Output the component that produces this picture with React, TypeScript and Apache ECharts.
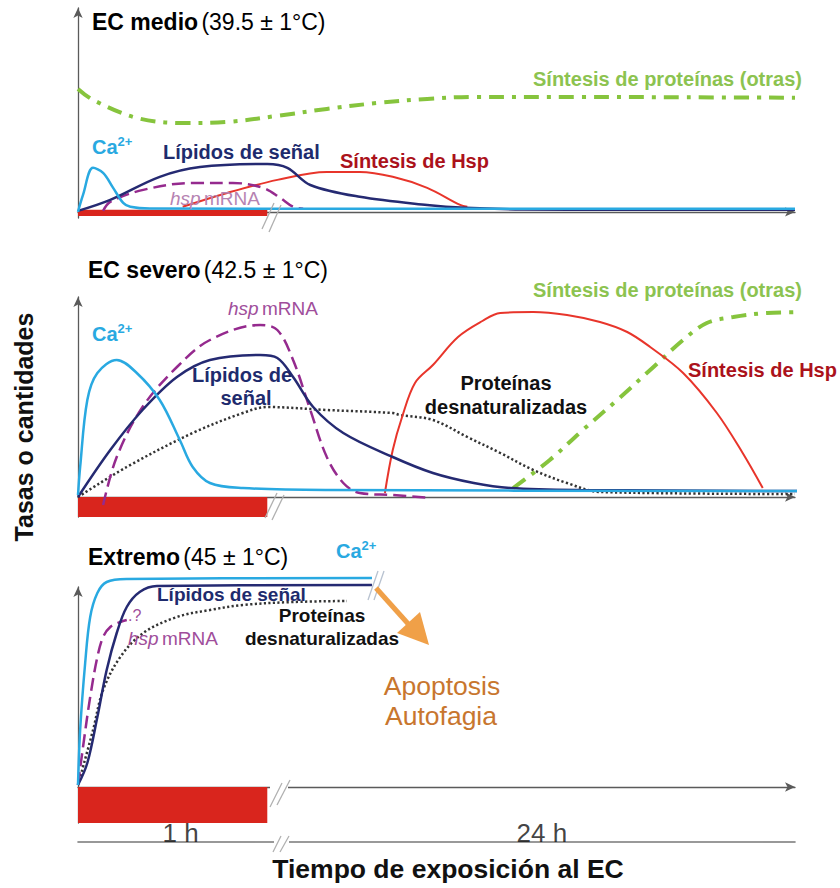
import React, { useEffect, useRef } from "react";
import * as echarts from "echarts";

// ---------- data (x: relative exposure time 0..100, y: relative rate/amount) ----------
// Panel 1: EC medio
const p1Green: number[][] = [[0, 60.3], [2.1, 54.9], [8.2, 46.1], [14.6, 43.6], [20.8, 44.1], [27.8, 47.1], [34.7, 50.5], [41.7, 53.4], [48.7, 55.4], [55.1, 56.4], [70, 56.4], [85, 56.2], [100, 56]];
const p1Ca: number[][] = [[0, 0], [0.7, 8.3], [2.1, 21.6], [3.5, 19.1], [4.9, 11.8], [6.3, 4.4], [7.3, 2.5], [10, 1.6], [100, 1.5]];
const p1Lipid: number[][] = [[0, 0.5], [4.5, 5.9], [11.4, 17.2], [17, 22], [26.4, 23.5], [29.2, 21.6], [32.4, 13.2], [39.3, 7.4], [48.7, 3.4], [54, 2], [62, 1.2], [75, 1], [100, 1]];
const p1Mrna: number[][] = [[3.5, 0.5], [4.5, 4.9], [9.1, 10.8], [16, 14.2], [21.6, 14.2], [25.8, 11.8], [28.2, 6.9], [30, 2.5], [31.4, 1.5]];
const p1Hsp: number[][] = [[14.6, 2.5], [20.8, 9.3], [27.8, 15.7], [34.7, 19.6], [39.3, 19.6], [43.9, 17.2], [48.7, 11.8], [53.3, 3.4], [54.3, 2.5]];

// Panel 2: EC severo
const p2Ca: number[][] = [[0, 1], [0.3, 15], [1.3, 48.5], [2.7, 62], [5.4, 68.5], [8.2, 62], [11.4, 48.5], [14.2, 28.5], [16, 15], [18.4, 7], [23, 4.5], [35, 3.5], [101, 3]];
const p2Lipid: number[][] = [[0, 0], [4.5, 23.5], [9, 43.5], [13.8, 60], [18.4, 68.5], [25.4, 71], [27.8, 69.5], [30, 60], [32.8, 45], [37, 32], [43.9, 20], [49.5, 12], [55.2, 7], [60.3, 4.5], [70, 3.5], [101, 3]];
const p2Mrna: number[][] = [[3.5, -4], [5.4, 20], [9, 45], [13.8, 65], [18.4, 78.5], [25.4, 86], [27.8, 83.5], [30, 68.5], [32.4, 43.5], [34.7, 20], [37, 7], [39.3, 2], [43.9, 1], [49.1, -0.5]];
const p2Denat: number[][] = [[0, 0], [6.8, 15], [16, 32], [23, 42], [26.4, 45], [34.7, 43.5], [43.9, 42], [44.9, 41], [49.5, 38.5], [54.3, 30], [58.9, 22], [63.5, 13.5], [68.2, 7], [72.8, 2.5], [100, 1.5]];
const p2Hsp: number[][] = [[42.8, 2], [43.9, 23.5], [45.2, 40], [47, 57], [49.5, 66], [53, 80], [56.4, 88], [58.9, 92], [63.5, 92.5], [68.2, 91], [72.8, 87.5], [76.6, 82.5], [79.8, 75], [84.4, 62], [89.1, 42], [92.7, 22], [95.5, 4.5]];
const p2Green: number[][] = [[60.7, 4.5], [65.8, 18.5], [70.4, 33.5], [75.2, 48.5], [79.8, 63.5], [84.4, 78.5], [87.7, 87], [91.4, 90], [96.1, 92], [103.9, 92.5]];

// Panel 3: Extremo
const p3Ca: number[][] = [[0, 1], [0.3, 28.5], [1, 62], [1.7, 85], [2.7, 97], [4, 102.5], [6.8, 104], [41, 104.5]];
const p3Lipid: number[][] = [[0, 1], [1.3, 12], [2.7, 35], [4, 58.5], [5.4, 77], [6.8, 90], [8.6, 97.5], [11, 100.5], [41, 101]];
const p3Mrna: number[][] = [[0, 1], [0.7, 20], [1.7, 45], [2.7, 65], [3.5, 75], [4.5, 80], [5.9, 82.5], [6.8, 83.5]];
const p3Denat: number[][] = [[0, 1], [2.1, 28.5], [3.5, 48.5], [5.9, 65], [9.1, 77], [13.8, 85], [18.4, 88.5], [23, 91], [30, 92.5], [37.5, 93]];

// heat exposure bar (1 h) and its depth below each axis
const exposureEnd = 26.4;
const barRanges: number[][] = [[-2, 1], [-10, 0], [-18, 0]];

// time axis tick labels
const timeTickLabels = ["1 h", "24 h"];
const timeTickPos = [14.3, 64.7];

// ---------- styles ----------
const C_BLUE = "#29a9e1";
const C_NAVY = "#252a72";
const C_PURPLE = "#952a8e";
const C_RED = "#e8352b";
const C_GREEN = "#86c43d";
const C_DOT = "#333333";
const C_BAR = "#d9251d";
const C_AXIS = "#5a5a5a";
const FONT = "'Liberation Sans', Arial, sans-serif";

const LABEL = 20;

const GRIDS = [
  { left: 78, right: 45, top: 8, height: 210 },
  { left: 78, right: 45, top: 297, height: 220 },
  { left: 78, right: 45, top: 587, height: 236 },
  { left: 78, right: 45, top: 800, height: 42 },
];
const Y_RANGES = [[-3, 100], [-10, 100], [-18, 100], [0, 1]];

function line(panel: number, data: number[][], color: string, width: number, type: any, z = 3) {
  return {
    type: "line",
    xAxisIndex: panel,
    yAxisIndex: panel,
    data,
    smooth: 0.35,
    symbol: "none",
    showSymbol: false,
    clip: false,
    silent: true,
    z,
    lineStyle: { color, width, type, cap: "butt" },
  };
}

function barSeries(panel: number) {
  const r = barRanges[panel];
  return {
    type: "line",
    xAxisIndex: panel,
    yAxisIndex: panel,
    data: [[0, 0]],
    symbol: "none",
    lineStyle: { width: 0 },
    z: 1,
    silent: true,
    markArea: {
      silent: true,
      itemStyle: { color: C_BAR, opacity: 1 },
      data: [[{ xAxis: 0, yAxis: r[0] }, { xAxis: exposureEnd, yAxis: r[1] }]],
    },
  };
}

const DASHDOT = [15, 8, 4, 8];
const DASH = [13, 6];
const DOTS = [2.2, 2.4];

function txt(x: number, y: number, text: string, style: any, extra: any = {}) {
  return {
    type: "text",
    x,
    y,
    z: 100,
    ...extra,
    style: { text, fontFamily: FONT, textVerticalAlign: "middle", ...style },
  };
}

function richTitle(x: number, y: number, bold: string, normal: string) {
  return txt(x, y, `{b|${bold}} {n|${normal}}`, {
    rich: {
      b: { fontSize: 23, fontWeight: "bold", fill: "#000", fontFamily: FONT },
      n: { fontSize: 23, fontWeight: "normal", fill: "#000", fontFamily: FONT },
    },
  });
}

function caLabel(x: number, y: number) {
  return txt(x, y, "{a|Ca}{s|2+}", {
    rich: {
      a: { fontSize: 20, fontWeight: "bold", fill: C_BLUE, fontFamily: FONT, lineHeight: 22, verticalAlign: "bottom" },
      s: { fontSize: 13, fontWeight: "bold", fill: C_BLUE, fontFamily: FONT, lineHeight: 22, verticalAlign: "top" },
    },
  });
}

function mrnaLabel(x: number, y: number, color: string) {
  return txt(x, y, "{i|hsp} {n|mRNA}", {
    rich: {
      i: { fontSize: 19, fontStyle: "italic", fill: color, fontFamily: FONT },
      n: { fontSize: 19, fill: color, fontFamily: FONT },
    },
  });
}

const boldLabel = (x: number, y: number, text: string, fill: string, size = LABEL, align = "left") =>
  txt(x, y, text, { fill, fontSize: size, fontWeight: "bold", textAlign: align });

const brk = (x1: number, y1: number, x2: number, y2: number, color = "#b0b0b0") => ({
  type: "line",
  z: 90,
  shape: { x1, y1, x2, y2 },
  style: { stroke: color, lineWidth: 1.3 },
});

export default function App() {
  const ref = useRef<HTMLDivElement>(null);
  useEffect(() => {
    if (!ref.current) return;
    const chart = echarts.init(ref.current, null, { renderer: "svg" });

    const axisArrow = () => ({
      show: true,
      onZero: true,
      symbol: ["none", "arrow"],
      symbolSize: [7, 10],
      lineStyle: { color: C_AXIS, width: 1.3 },
    });

    const xAxis = GRIDS.map((_, i) => ({
      type: "value",
      gridIndex: i,
      min: 0,
      max: 100,
      axisLine: i < 3 ? axisArrow() : { show: true, onZero: false, lineStyle: { color: "#777", width: 1.6 } },
      axisTick: { show: false },
      axisLabel: { show: false },
      splitLine: { show: false },
    }));
    const yAxis = GRIDS.map((_, i) => ({
      type: "value",
      gridIndex: i,
      min: Y_RANGES[i][0],
      max: Y_RANGES[i][1],
      axisLine: i < 3 ? axisArrow() : { show: false },
      axisTick: { show: false },
      axisLabel: { show: false },
      splitLine: { show: false },
    }));

    const series: any[] = [
      barSeries(0),
      barSeries(1),
      barSeries(2),
      // panel 1
      line(0, p1Green, C_GREEN, 4, DASHDOT),
      line(0, p1Hsp, C_RED, 2, "solid"),
      line(0, p1Mrna, C_PURPLE, 2.5, DASH),
      line(0, p1Lipid, C_NAVY, 2.5, "solid"),
      line(0, p1Ca, C_BLUE, 2.5, "solid", 4),
      // panel 2
      line(1, p2Denat, C_DOT, 2.5, DOTS),
      line(1, p2Green, C_GREEN, 4, DASHDOT),
      line(1, p2Hsp, C_RED, 2, "solid"),
      line(1, p2Mrna, C_PURPLE, 2.5, DASH),
      line(1, p2Lipid, C_NAVY, 2.5, "solid"),
      line(1, p2Ca, C_BLUE, 2.5, "solid", 4),
      // panel 3
      line(2, p3Denat, C_DOT, 2.5, DOTS),
      line(2, p3Mrna, C_PURPLE, 2.5, DASH),
      line(2, p3Lipid, C_NAVY, 2.5, "solid"),
      line(2, p3Ca, C_BLUE, 2.5, "solid", 4),
      // time axis labels
      {
        type: "scatter",
        xAxisIndex: 3,
        yAxisIndex: 3,
        symbolSize: 0,
        silent: true,
        data: timeTickLabels.map((name, i) => ({ name, value: [timeTickPos[i], 0] })),
        label: {
          show: true,
          position: "top",
          distance: -4,
          formatter: (p: any) => p.name,
          fontFamily: FONT,
          fontSize: 26,
          color: "#111",
        },
      },
    ];

    const graphic: any[] = [
      // panel 1 texts
      richTitle(92, 22, "EC medio", "(39.5 ± 1°C)"),
      boldLabel(533, 79, "Síntesis de proteínas (otras)", "#8cc350"),
      caLabel(92, 146),
      boldLabel(163, 152, "Lípidos de señal", "#1e2b6d"),
      boldLabel(340, 161, "Síntesis de Hsp", "#ab121b"),
      mrnaLabel(170, 198, "#b683b2"),
      // panel 2 texts
      richTitle(88, 270, "EC severo", "(42.5 ± 1°C)"),
      boldLabel(533, 290, "Síntesis de proteínas (otras)", "#8cc350"),
      mrnaLabel(228, 308, "#a04e9b"),
      caLabel(92, 333),
      boldLabel(242, 375, "Lípidos de", "#1e2b6d", LABEL, "center"),
      boldLabel(246, 398, "señal", "#1e2b6d", LABEL, "center"),
      boldLabel(506, 383, "Proteínas", "#111", LABEL, "center"),
      boldLabel(506, 407, "desnaturalizadas", "#111", LABEL, "center"),
      boldLabel(688, 370, "Síntesis de Hsp", "#ab121b"),
      // panel 3 texts
      richTitle(88, 557, "Extremo", "(45 ± 1°C)"),
      caLabel(336, 550),
      boldLabel(157, 594, "Lípidos de señal", "#1e2b6d", 19),
      boldLabel(322, 615, "Proteínas", "#111", 19, "center"),
      boldLabel(322, 638, "desnaturalizadas", "#111", 19, "center"),
      mrnaLabel(128, 638, "#a04e9b"),
      txt(128, 615, ".?", { fill: "#a04e9b", fontSize: 16 }),
      txt(442, 686, "Apoptosis", { fill: "#c8762e", fontSize: 26.5, textAlign: "center" }),
      txt(441, 716, "Autofagia", { fill: "#c8762e", fontSize: 26.5, textAlign: "center" }),
      // axis titles
      txt(448, 869, "Tiempo de exposición al EC", { fill: "#111", fontSize: 26.5, fontWeight: "bold", textAlign: "center" }),
      txt(24, 427, "Tasas o cantidades", { fill: "#111", fontSize: 25, fontWeight: "bold", textAlign: "center" }, { rotation: Math.PI / 2 }),
      // orange arrow
      { type: "line", z: 95, shape: { x1: 376, y1: 588, x2: 411, y2: 627 }, style: { stroke: "#f0a048", lineWidth: 5 } },
      { type: "polygon", z: 95, shape: { points: [[397, 633], [420, 612], [429, 645]] }, style: { fill: "#f0a048" } },
      // axis breaks
      brk(262, 229, 274, 203),
      brk(269, 232, 281, 205),
      brk(265, 518, 277, 493),
      brk(272, 520, 284, 495),
      { type: "rect", z: 89, shape: { x: 270, y: 783, width: 18, height: 8 }, style: { fill: "#fff" } },
      brk(270, 807, 282, 783),
      brk(277, 805, 290, 780),
      brk(368, 600, 378, 571, "#b8c2d0"),
      brk(374, 600, 384, 571, "#b8c2d0"),
      { type: "rect", z: 89, shape: { x: 274, y: 838, width: 15, height: 8 }, style: { fill: "#fff" } },
      brk(273, 852, 281, 836),
      brk(280, 852, 289, 836),
    ];

    chart.setOption({
      animation: false,
      backgroundColor: "#ffffff",
      grid: GRIDS,
      xAxis,
      yAxis,
      series,
      graphic,
    });
    return () => chart.dispose();
  }, []);
  return <div ref={ref} style={{ width: 840, height: 888, position: "absolute", left: 0, top: 0 }} />;
}
